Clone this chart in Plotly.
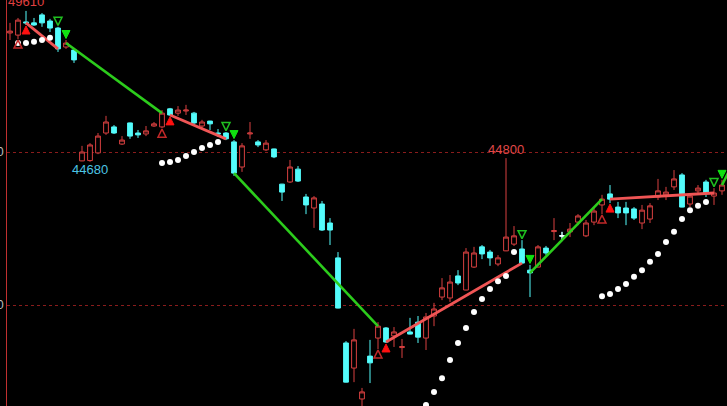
import plotly.graph_objects as go

# ---------------- data ----------------
opens = [48890, 48820, 49250, 49220, 49480, 49280, 49050, 48430, 48330, 44710,
         44720, 44970, 45620, 45820, 45260, 45950, 45620, 45590, 45850, 45820,
         46410, 46270, 46340, 46270, 45850, 46010, 45620, 45620, 45330, 44510,
         45590, 45330, 45070, 45100, 43950, 44020, 44440, 43530, 43170, 43300,
         42680, 41540, 38760, 37940, 36930, 38330, 38920, 39250, 38990, 38610,
         39120, 39440, 38920, 39640, 40260, 40230, 40950, 40490, 41240, 41900,
         41730, 41340, 41770, 41990, 41830, 41140, 41240, 41860, 42400, 42260,
         42390, 42710, 42260, 42710, 43270, 43630, 43200, 43170, 43140, 42680,
         42810, 43530, 43600, 43860, 44250, 43300, 43730, 44020, 43560, 43730]
highs = [49220, 49380, 49610, 49380, 49540, 49350, 49090, 48660, 48370, 45200,
         45290, 45620, 46180, 45880, 45520, 45960, 45720, 45850, 45980, 46370,
         46440, 46500, 46540, 46310, 46050, 46020, 45750, 45650, 45390, 45290,
         45980, 45390, 45390, 45110, 43960, 44740, 44540, 43630, 43560, 43400,
         42840, 41730, 38820, 39220, 37290, 38860, 39440, 39280, 39280, 38890,
         39580, 39640, 39740, 40070, 40880, 40980, 41140, 41860, 41900, 41960,
         41800, 41630, 44800, 42580, 42120, 41310, 41960, 41930, 42840, 42390,
         42680, 42970, 42780, 43170, 43600, 43920, 43370, 43370, 43200, 43270,
         43330, 44120, 43860, 44410, 44310, 43660, 43920, 44090, 43820, 44090]
lows = [48660, 48690, 49150, 49120, 49090, 48920, 48270, 48370, 47910, 44700,
        44680, 44930, 45560, 45590, 45230, 45430, 45460, 45520, 45820, 45780,
        46180, 46180, 46210, 45880, 45780, 45720, 45490, 45390, 44220, 44350,
        45430, 45160, 45030, 44800, 43400, 43990, 44020, 42970, 42520, 42420,
        41960, 39890, 37470, 37480, 36500, 37450, 38560, 38760, 38630, 38270,
        39040, 38760, 38530, 39310, 40160, 40100, 40650, 40480, 41210, 41500,
        41280, 41270, 41760, 41930, 41360, 40260, 41230, 41630, 42120, 42090,
        42220, 42610, 42220, 42610, 42970, 43330, 42840, 42610, 42780, 42480,
        42680, 43430, 43430, 43760, 43190, 43200, 43600, 43530, 43270, 43600]
closes = [48950, 49310, 49220, 49150, 49220, 49050, 48370, 48560, 48010, 45000,
          45230, 45520, 45980, 45620, 45390, 45520, 45560, 45690, 45920, 46270,
          46210, 46370, 46370, 45950, 45980, 45920, 45590, 45430, 44310, 45200,
          45620, 45230, 45290, 44840, 43690, 44510, 44050, 43270, 43500, 42450,
          42450, 39900, 37480, 38860, 37160, 38110, 39310, 38790, 39120, 38640,
          39050, 38950, 39610, 39870, 40560, 40750, 40720, 41730, 41700, 41670,
          41540, 41540, 42220, 42260, 41370, 41050, 41900, 41700, 42430, 42260,
          42480, 42910, 42680, 43070, 43460, 43460, 43010, 43010, 42840, 43100,
          43240, 43730, 43690, 44120, 43200, 43560, 43820, 43660, 43660, 43920]

# parabolic-stop dots
sar_idx = [1, 2, 3, 4, 5,
           19, 20, 21, 22, 23, 24, 25, 26,
           52, 53, 54, 55, 56, 57, 58, 59, 60, 61, 62, 63,
           74, 75, 76, 77, 78, 79, 80, 81, 82, 83, 84, 85, 86, 87]
sar_val = [48560, 48560, 48600, 48660, 48730,
           44640, 44670, 44740, 44870, 45000, 45130, 45230, 45330,
           36730, 37160, 37610, 38200, 38760, 39250, 39770, 40200, 40520, 40780, 40950, 41730,
           40290, 40360, 40520, 40690, 40920, 41140, 41410, 41670, 42060, 42390, 42810, 43100, 43240, 43370]

# trading signals
buy_warn = [1, 19, 46, 74]
buy_sig = [2, 20, 47, 75]
sell_warn = [6, 27, 64, 88]
sell_sig = [7, 28, 65, 89]
next_signal_close = 44440   # close of the following (off-screen) signal bar

# extreme labels
label_idx = [2, 10, 62]
label_kind = ["high", "low", "high"]
label_color = ["#e04040", "#4cc4e4", "#e04848"]

doji_idx = [69]

# ---------------- figure ----------------
n = len(opens)
x = list(range(n))
Y0, Y1 = 36700, 49967
H_PX = 406
PX = (Y1 - Y0) / H_PX   # price per pixel

fig = go.Figure()

fig.add_trace(go.Candlestick(
    x=x, open=opens, high=highs, low=lows, close=closes,
    increasing=dict(line=dict(color="#d84040", width=1), fillcolor="#000000"),
    decreasing=dict(line=dict(color="#54fcfc", width=1), fillcolor="#54fcfc"),
    whiskerwidth=0, hoverinfo="skip", showlegend=False))

fig.add_trace(go.Candlestick(
    x=doji_idx, open=[opens[i] for i in doji_idx], high=[highs[i] for i in doji_idx],
    low=[lows[i] for i in doji_idx], close=[closes[i] for i in doji_idx],
    increasing=dict(line=dict(color="#ffffff", width=1), fillcolor="#ffffff"),
    decreasing=dict(line=dict(color="#ffffff", width=1), fillcolor="#ffffff"),
    whiskerwidth=0, hoverinfo="skip", showlegend=False))

# signal lines
rx, ry = [], []
for a, b in zip(buy_sig, sell_warn):
    rx += [a, b, None]
    ry += [closes[a], closes[b], None]
gx, gy = [], []
for k, a in enumerate(sell_sig):
    if k + 1 < len(buy_warn):
        b = buy_warn[k + 1]
        gx += [a, b, None]
        gy += [closes[a], closes[b], None]
    else:
        gx += [a, n, None]
        gy += [closes[a], next_signal_close, None]

fig.add_trace(go.Scatter(x=rx, y=ry, mode="lines", line=dict(color="#f05555", width=2.8),
                         hoverinfo="skip", showlegend=False))
fig.add_trace(go.Scatter(x=gx, y=gy, mode="lines", line=dict(color="#2ccc1c", width=2.6),
                         hoverinfo="skip", showlegend=False))

# SAR dots
fig.add_trace(go.Scatter(x=sar_idx, y=sar_val, mode="markers",
                         marker=dict(color="#ffffff", size=6, symbol="circle", line=dict(width=0)),
                         hoverinfo="skip", showlegend=False))

# arrows (marker anchor is the arrow tip)
def arrow(idx, below, symbol, color, lw):
    ys = [lows[i] - 1 * PX if below else highs[i] + 1.5 * PX for i in idx]
    fig.add_trace(go.Scatter(x=idx, y=ys, mode="markers",
                             marker=dict(symbol=symbol, size=8, color=color,
                                         line=dict(color=color, width=lw)),
                             hoverinfo="skip", showlegend=False))

arrow(buy_warn, True, "arrow-up-open", "#c02828", 1.5)
arrow(buy_sig, True, "arrow-up", "#ff1010", 1)
arrow(sell_warn, False, "arrow-down-open", "#20c020", 1.5)
arrow(sell_sig, False, "arrow-down", "#10e010", 1)

for i, kind, col in zip(label_idx, label_kind, label_color):
    v = highs[i] if kind == "high" else lows[i]
    fig.add_annotation(x=i, y=v, text=str(int(v)), showarrow=False,
                       yshift=9 if kind == "high" else -8, yanchor="middle",
                       font=dict(family="Liberation Sans, Arial, sans-serif", size=13, color=col))

fig.update_layout(
    width=727, height=406,
    paper_bgcolor="#000000", plot_bgcolor="#000000",
    margin=dict(l=7, r=0, t=0, b=0),
    boxgap=0.15,
    xaxis=dict(range=[-0.375, n - 0.375], visible=False, rangeslider=dict(visible=False),
               fixedrange=True),
    yaxis=dict(range=[Y0, Y1], tickvals=[40000, 45000], tickformat="d", showgrid=True,
               gridcolor="#8a1c1c", griddash="dot", gridwidth=1,
               showline=True, linecolor="#c03030", linewidth=1, zeroline=False,
               ticks="", tickfont=dict(color="#c0c0c0", size=12,
                                       family="Liberation Sans, Arial, sans-serif"),
               automargin=False, fixedrange=True),
    showlegend=False,
)

fig.write_html("out.html", config={"displayModeBar": False},
               post_script="document.body.style.margin='0px';document.body.style.padding='0px';"
                           "document.body.style.background='#000';")
